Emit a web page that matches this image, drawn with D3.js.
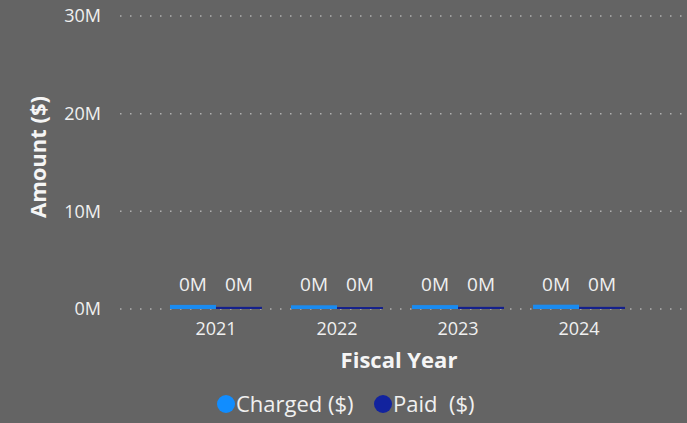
<!DOCTYPE html>
<html><head><meta charset="utf-8">
<script src="https://cdn.jsdelivr.net/npm/d3@7"></script>
<style>
html,body{margin:0;padding:0;background:#646464;}
svg{display:block;}
text{font-family:"Open Sans","Noto Sans",sans-serif;}
</style></head>
<body>
<svg id="chart" width="687" height="423"></svg>
<script>
const years = ["2021","2022","2023","2024"];
const series = ["Charged ($)","Paid  ($)"];
const charged = [0.42, 0.38, 0.40, 0.44];
const paid = [0.22, 0.20, 0.22, 0.22];
const yTicks = [0, 10, 20, 30];
const colors = ["#1A8BF0", "#14208C"];

const svg = d3.select("#chart");
const plotL = 120, plotR = 687, plotTop = 16, base = 309;

const x = d3.scaleBand().domain(years).range([120, 675]).paddingInner(0.24).paddingOuter(0.413);
const x1 = d3.scaleBand().domain(series).range([0, x.bandwidth()]);
const y = d3.scaleLinear().domain([0, 30]).range([base, plotTop]);

// gridlines
svg.append("g").selectAll("line").data(yTicks).join("line")
  .attr("x1", plotL).attr("x2", plotR)
  .attr("y1", d => y(d)).attr("y2", d => y(d))
  .attr("stroke", "#b0b0b0").attr("stroke-width", 1.5)
  .attr("stroke-dasharray", "1.5,8.5");

// y tick labels
svg.append("g").selectAll("text").data(yTicks).join("text")
  .attr("x", 101).attr("y", d => y(d)).attr("dy", "0.35em")
  .attr("text-anchor", "end").attr("fill", "#f0f0f0")
  .attr("font-size", 18).text(d => d + "M");

// bars
const data = years.map((yr, i) => ({yr, vals: [charged[i], paid[i]]}));
const groups = svg.append("g").selectAll("g").data(data).join("g")
  .attr("transform", d => `translate(${x(d.yr)},0)`);
groups.selectAll("rect").data(d => d.vals.map((v, j) => ({v, s: series[j], j}))).join("rect")
  .attr("x", d => x1(d.s)).attr("width", x1.bandwidth())
  .attr("y", d => y(d.v)).attr("height", d => base - y(d.v))
  .attr("fill", d => colors[d.j]);
groups.selectAll("text").data(d => d.vals.map((v, j) => ({v, s: series[j], j, m: d3.max(d.vals)}))).join("text")
  .attr("x", d => x1(d.s) + x1.bandwidth() / 2)
  .attr("y", d => y(d.m) - 14)
  .attr("text-anchor", "middle").attr("fill", "#f0f0f0").attr("font-size", 19)
  .text(d => Math.round(d.v) + "M");

// x axis labels
svg.append("g").selectAll("text").data(years).join("text")
  .attr("x", d => x(d) + x.bandwidth() / 2).attr("y", 329).attr("dy", "0.35em")
  .attr("text-anchor", "middle").attr("fill", "#f0f0f0").attr("font-size", 18)
  .text(d => d);

// axis titles
svg.append("text").attr("x", 399).attr("y", 360).attr("dy", "0.35em").attr("text-anchor", "middle")
  .attr("fill", "#f5f5f5").attr("font-size", 22).attr("font-weight", "bold").text("Fiscal Year");
svg.append("text").attr("transform", "translate(38,157) rotate(-90)").attr("dy", "0.35em").attr("text-anchor", "middle")
  .attr("fill", "#f5f5f5").attr("font-size", 22).attr("font-weight", "bold").text("Amount ($)");

// legend
const leg = svg.append("g");
const legX = [226, 383];
series.forEach((s, i) => {
  leg.append("circle").attr("cx", legX[i]).attr("cy", 404).attr("r", 9).attr("fill", i === 0 ? "#118DFF" : "#12239E");
  leg.append("text").attr("x", legX[i] + 10).attr("y", 404).attr("dy", "0.35em")
    .attr("fill", "#f0f0f0").attr("font-size", 22)
    .style("white-space", "pre").text(s);
});
</script>
</body></html>
